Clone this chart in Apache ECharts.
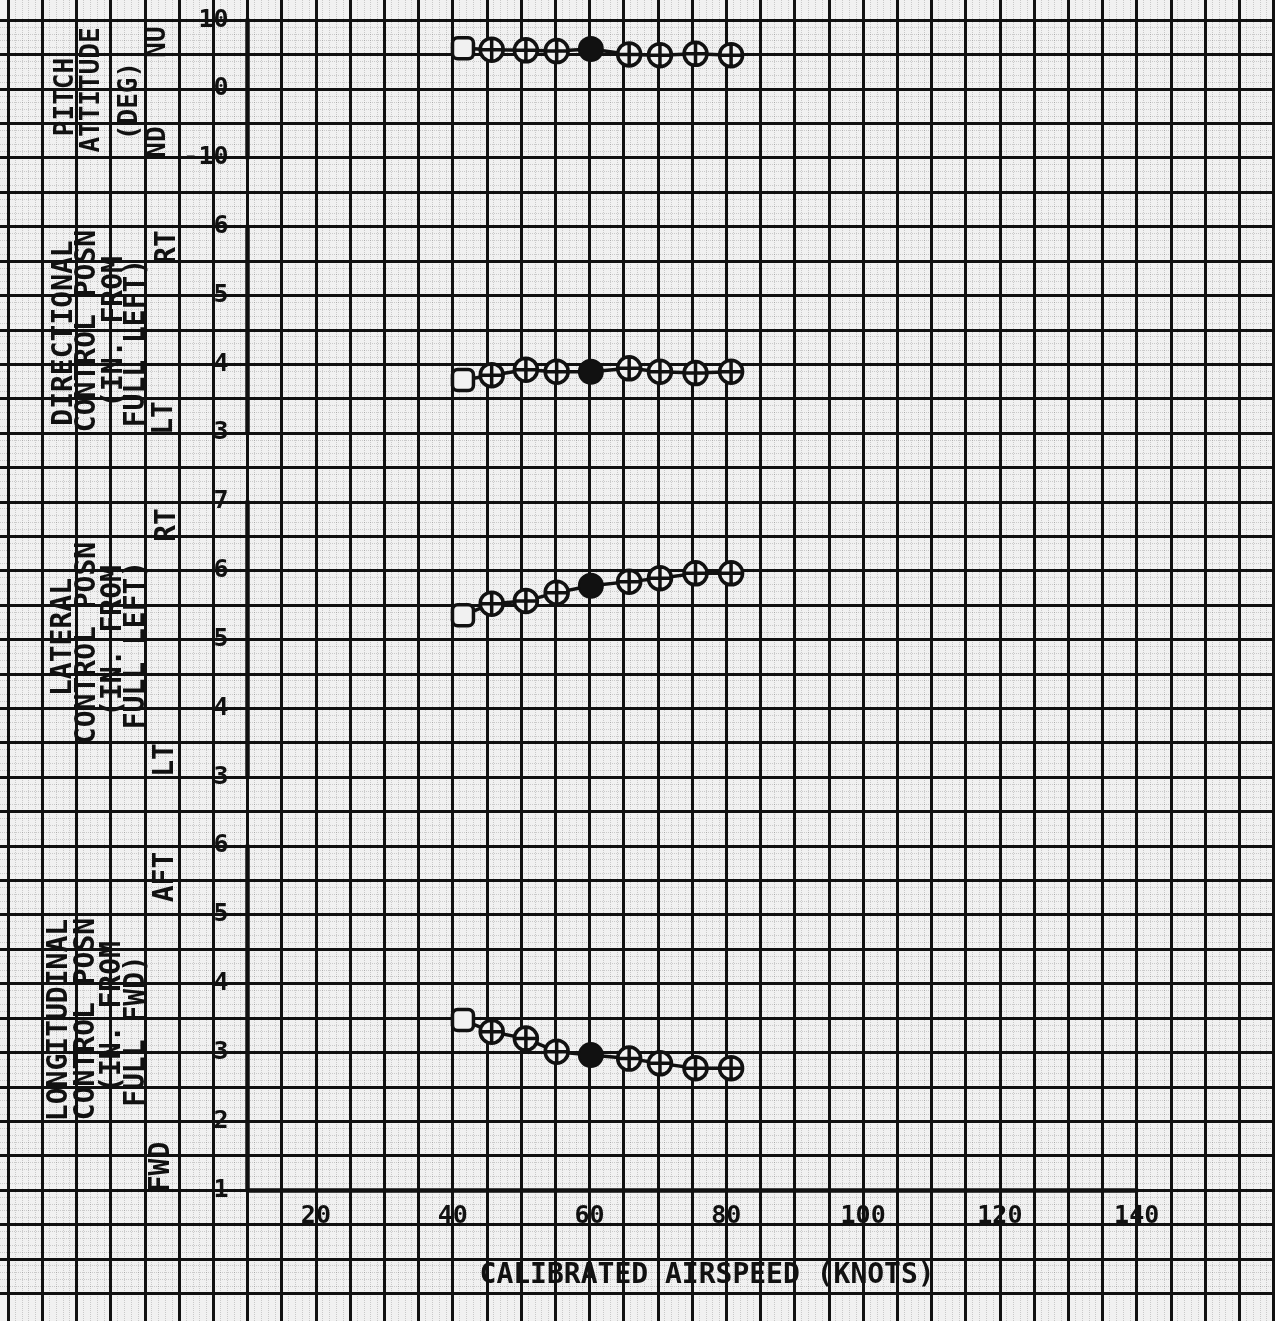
<!DOCTYPE html>
<html>
<head>
<meta charset="utf-8">
<script src="https://cdn.jsdelivr.net/npm/echarts@6/dist/echarts.min.js"></script>
<style>
html,body{margin:0;padding:0;background:#f1f1f1;}
#c{width:1275px;height:1321px;}
</style>
</head>
<body>
<div id="c"></div>
<script>
// ---- data ----
const airspeed = [41.5, 45.7, 50.7, 55.2, 60.2, 65.8, 70.3, 75.5, 80.7];
const pitchAttitude = [5.9, 5.7, 5.6, 5.5, 5.8, 5.0, 4.9, 5.1, 4.9];
const directionalPosn = [3.77, 3.84, 3.92, 3.89, 3.89, 3.94, 3.89, 3.87, 3.89];
const lateralPosn = [5.35, 5.52, 5.56, 5.68, 5.78, 5.84, 5.89, 5.96, 5.96];
const longitudinalPosn = [3.47, 3.30, 3.20, 3.01, 2.96, 2.91, 2.84, 2.77, 2.77];
const markerKinds = ['first', 'cross', 'cross', 'cross', 'solid', 'cross', 'cross', 'cross', 'cross'];
const xTickLabels = [20, 40, 60, 80, 100, 120, 140];

// ---- layout ----
const W = 1275, H = 1321;
const X10 = 247.5, PXK = 6.84;      // px of 10 knots, px per knot
const YB = 1190, CELL = 34.41;      // bottom axis px, px per grid cell
const XMIN = 10, XMAX = 140;
const INK = '#111111';
const PAPER = '#f1f1f1';
const FONT = '"DejaVu Sans Mono", "Liberation Mono", monospace';

const panels = [
  {min: -10, max: 10, interval: 10, c0: 30, c1: 34, values: pitchAttitude},
  {min: 3, max: 6, interval: 1, c0: 22, c1: 28, values: directionalPosn},
  {min: 3, max: 7, interval: 1, c0: 12, c1: 20, values: lateralPosn},
  {min: 1, max: 6, interval: 1, c0: 0, c1: 10, values: longitudinalPosn}
];

const CROSS = 'path://M2,50A48,48,0,1,1,98,50A48,48,0,1,1,2,50ZM2,50L98,50M50,2L50,98';
function markerFor(kind) {
  if (kind === 'solid') return {symbol: 'circle', symbolSize: 24, itemStyle: {color: INK, borderColor: INK, borderWidth: 2}};
  if (kind === 'first') return {symbol: 'roundRect', symbolSize: 21, itemStyle: {color: PAPER, borderColor: INK, borderWidth: 3.5}};
  return {symbol: CROSS, symbolSize: 23, itemStyle: {color: PAPER, borderColor: INK, borderWidth: 3.5}};
}

const grids = [
  {left: X10 - 35 * PXK, top: 0, width: 185 * PXK, height: H},          // vertical paper lines
  {left: 0, top: YB - 34 * CELL, width: W, height: 37 * CELL}           // horizontal paper lines
];
const xAxes = [
  {type: 'value', gridIndex: 0, min: -25, max: 160, interval: 5,
   axisLine: {show: false}, axisTick: {show: false}, axisLabel: {show: false},
   splitLine: {show: true, lineStyle: {color: INK, width: 3}},
   minorTick: {show: false, splitNumber: 5},
   minorSplitLine: {show: true, lineStyle: {color: 'rgba(0,0,0,0.16)', width: 1, type: 'dotted'}}},
  {type: 'value', gridIndex: 1, min: 0, max: 1, show: false}
];
const yAxes = [
  {type: 'value', gridIndex: 0, min: 0, max: 1, show: false},
  {type: 'value', gridIndex: 1, min: -3, max: 34, interval: 1,
   axisLine: {show: false}, axisTick: {show: false}, axisLabel: {show: false},
   splitLine: {show: true, lineStyle: {color: INK, width: 3}},
   minorTick: {show: false, splitNumber: 5},
   minorSplitLine: {show: true, lineStyle: {color: 'rgba(0,0,0,0.16)', width: 1, type: 'dotted'}}}
];
const series = [];

panels.forEach((p, i) => {
  const gi = i + 2;
  const isBottom = i === panels.length - 1;
  grids.push({left: X10, width: (XMAX - XMIN) * PXK, top: YB - p.c1 * CELL, height: (p.c1 - p.c0) * CELL});
  xAxes.push({
    type: 'value', gridIndex: gi, min: XMIN, max: XMAX,
    splitLine: {show: false},
    axisLine: {show: isBottom, onZero: false, lineStyle: {color: INK, width: 4.5}},
    axisTick: {show: isBottom, customValues: xTickLabels, length: 8, lineStyle: {color: INK, width: 3}},
    axisLabel: {show: isBottom, customValues: xTickLabels, margin: 14, color: INK,
                fontFamily: FONT, fontWeight: 'bold', fontSize: 25},
    name: isBottom ? 'CALIBRATED AIRSPEED (KNOTS)' : '',
    nameLocation: 'middle', nameGap: 72,
    nameTextStyle: {color: INK, fontFamily: FONT, fontWeight: 'bold', fontSize: 28, padding: [0, 0, 0, 30]}
  });
  yAxes.push({
    type: 'value', gridIndex: gi, min: p.min, max: p.max, interval: p.interval,
    splitLine: {show: false},
    axisLine: {show: true, onZero: false, lineStyle: {color: INK, width: 4.5}},
    axisTick: {show: true, length: 12, lineStyle: {color: INK, width: 3}},
    axisLabel: {margin: 19, color: INK, fontFamily: FONT, fontWeight: 'bold', fontSize: 25}
  });
  series.push({
    type: 'line', xAxisIndex: gi, yAxisIndex: gi, z: 5,
    lineStyle: {color: INK, width: 3.5},
    data: airspeed.map((x, k) => Object.assign({value: [x, p.values[k]]}, markerFor(markerKinds[k])))
  });
});

function vtext(text, x, y, size) {
  return {type: 'text', x: x, y: y, rotation: Math.PI / 2, z: 10,
          style: {text: text, fill: INK, font: 'bold ' + size + 'px ' + FONT, align: 'center', verticalAlign: 'middle'}};
}
const labelTexts = [
  // pitch
  ['PITCH', 66, 97, 26], ['ATTITUDE', 92, 90, 26], ['(DEG)', 130, 101, 26], ['NU', 158, 42, 26], ['ND', 158, 142, 26],
  // directional
  ['DIRECTIONAL', 65, 333, 28], ['CONTROL POSN', 88, 331, 28], ['(IN. FROM', 115, 332, 28], ['FULL LEFT)', 137, 343, 28],
  ['RT', 168, 247, 28], ['LT', 165, 418, 28],
  // lateral
  ['LATERAL', 64, 637, 28], ['CONTROL POSN', 88, 643, 28], ['(IN. FROM', 114, 641, 28], ['FULL LEFT)', 137, 645, 28],
  ['RT', 168, 525, 28], ['LT', 166, 760, 28],
  // longitudinal
  ['LONGITUDINAL', 60, 1020, 28], ['CONTROL POSN', 87, 1019, 28], ['(IN. FROM', 113, 1017, 28], ['FULL FWD)', 137, 1031, 28],
  ['AFT', 166, 877, 28], ['FWD', 162, 1167, 28]
];

const chart = echarts.init(document.getElementById('c'));
chart.setOption({
  backgroundColor: PAPER,
  animation: false,
  grid: grids,
  xAxis: xAxes,
  yAxis: yAxes,
  series: series,
  graphic: labelTexts.map(t => vtext(t[0], t[1], t[2], t[3]))
});
</script>
</body>
</html>
